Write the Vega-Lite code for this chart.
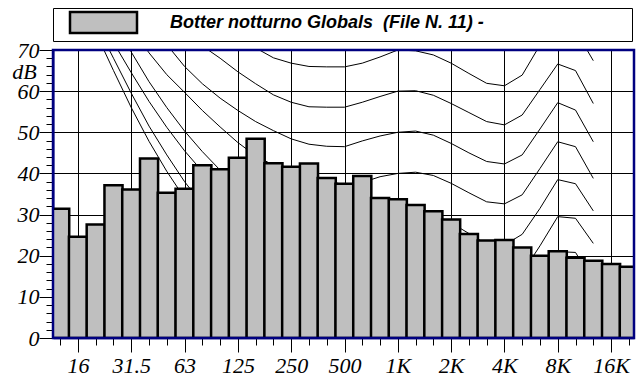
{
  "$schema": "https://vega.github.io/schema/vega-lite/v6.json",
  "autosize": {"type": "none"},
  "padding": {"left": 53, "top": 50, "right": 5, "bottom": 40},
  "width": 581,
  "height": 288,
  "background": "white",
  "config": {
    "view": {"stroke": "#000080", "strokeWidth": 2.5},
    "style": {"cell": {"strokeForeground": true}}
  },
  "datasets": {
    "bars": [
      {"band": 11, "hz": "12.5", "dB": 31.4},
      {"band": 12, "hz": "16", "dB": 24.6},
      {"band": 13, "hz": "20", "dB": 27.6},
      {"band": 14, "hz": "25", "dB": 37.1},
      {"band": 15, "hz": "31.5", "dB": 36.1},
      {"band": 16, "hz": "40", "dB": 43.6},
      {"band": 17, "hz": "50", "dB": 35.3},
      {"band": 18, "hz": "63", "dB": 36.3},
      {"band": 19, "hz": "80", "dB": 42.0},
      {"band": 20, "hz": "100", "dB": 41.0},
      {"band": 21, "hz": "125", "dB": 43.8},
      {"band": 22, "hz": "160", "dB": 48.4},
      {"band": 23, "hz": "200", "dB": 42.5},
      {"band": 24, "hz": "250", "dB": 41.6},
      {"band": 25, "hz": "315", "dB": 42.4},
      {"band": 26, "hz": "400", "dB": 38.9},
      {"band": 27, "hz": "500", "dB": 37.5},
      {"band": 28, "hz": "630", "dB": 39.4},
      {"band": 29, "hz": "800", "dB": 34.0},
      {"band": 30, "hz": "1K", "dB": 33.7},
      {"band": 31, "hz": "1.25K", "dB": 32.3},
      {"band": 32, "hz": "1.6K", "dB": 30.8},
      {"band": 33, "hz": "2K", "dB": 28.8},
      {"band": 34, "hz": "2.5K", "dB": 25.3},
      {"band": 35, "hz": "3.15K", "dB": 23.7},
      {"band": 36, "hz": "4K", "dB": 23.8},
      {"band": 37, "hz": "5K", "dB": 22.0},
      {"band": 38, "hz": "6.3K", "dB": 20.0},
      {"band": 39, "hz": "8K", "dB": 21.1},
      {"band": 40, "hz": "10K", "dB": 19.5},
      {"band": 41, "hz": "12.5K", "dB": 18.8},
      {"band": 42, "hz": "16K", "dB": 18.0},
      {"band": 43, "hz": "20K", "dB": 17.3}
    ],
    "contours": [
      {"phon": 70, "band": 21, "dB": 73.5}, {"phon": 70, "band": 22, "dB": 70.5}, {"phon": 70, "band": 23, "dB": 68.1}, {"phon": 70, "band": 24, "dB": 66.8}, {"phon": 70, "band": 25, "dB": 66.0}, {"phon": 70, "band": 26, "dB": 65.9}, {"phon": 70, "band": 27, "dB": 65.9}, {"phon": 70, "band": 28, "dB": 66.8}, {"phon": 70, "band": 29, "dB": 68.3}, {"phon": 70, "band": 30, "dB": 70.0}, {"phon": 70, "band": 31, "dB": 69.8}, {"phon": 70, "band": 32, "dB": 68.8}, {"phon": 70, "band": 33, "dB": 66.8}, {"phon": 70, "band": 34, "dB": 64.3}, {"phon": 70, "band": 35, "dB": 61.9}, {"phon": 70, "band": 36, "dB": 61.3}, {"phon": 70, "band": 37, "dB": 63.9}, {"phon": 70, "band": 38, "dB": 71.2}, {"phon": 70, "band": 39, "dB": 76.3}, {"phon": 70, "band": 40, "dB": 74.8}, {"phon": 70, "band": 41, "dB": 67.4},
      {"phon": 60, "band": 18, "dB": 74.8}, {"phon": 60, "band": 19, "dB": 71.0}, {"phon": 60, "band": 20, "dB": 68.0}, {"phon": 60, "band": 21, "dB": 64.7}, {"phon": 60, "band": 22, "dB": 61.8}, {"phon": 60, "band": 23, "dB": 59.1}, {"phon": 60, "band": 24, "dB": 57.3}, {"phon": 60, "band": 25, "dB": 56.2}, {"phon": 60, "band": 26, "dB": 56.1}, {"phon": 60, "band": 27, "dB": 56.1}, {"phon": 60, "band": 28, "dB": 57.3}, {"phon": 60, "band": 29, "dB": 58.7}, {"phon": 60, "band": 30, "dB": 60.0}, {"phon": 60, "band": 31, "dB": 60.1}, {"phon": 60, "band": 32, "dB": 59.0}, {"phon": 60, "band": 33, "dB": 57.0}, {"phon": 60, "band": 34, "dB": 54.8}, {"phon": 60, "band": 35, "dB": 52.6}, {"phon": 60, "band": 36, "dB": 51.8}, {"phon": 60, "band": 37, "dB": 54.2}, {"phon": 60, "band": 38, "dB": 60.4}, {"phon": 60, "band": 39, "dB": 66.6}, {"phon": 60, "band": 40, "dB": 65.0}, {"phon": 60, "band": 41, "dB": 57.0},
      {"phon": 50, "band": 16, "dB": 76.5}, {"phon": 50, "band": 17, "dB": 71.3}, {"phon": 50, "band": 18, "dB": 66.0}, {"phon": 50, "band": 19, "dB": 61.8}, {"phon": 50, "band": 20, "dB": 58.3}, {"phon": 50, "band": 21, "dB": 55.3}, {"phon": 50, "band": 22, "dB": 52.6}, {"phon": 50, "band": 23, "dB": 50.4}, {"phon": 50, "band": 24, "dB": 48.4}, {"phon": 50, "band": 25, "dB": 47.1}, {"phon": 50, "band": 26, "dB": 46.6}, {"phon": 50, "band": 27, "dB": 46.5}, {"phon": 50, "band": 28, "dB": 47.9}, {"phon": 50, "band": 29, "dB": 49.1}, {"phon": 50, "band": 30, "dB": 50.0}, {"phon": 50, "band": 31, "dB": 50.3}, {"phon": 50, "band": 32, "dB": 49.3}, {"phon": 50, "band": 33, "dB": 47.3}, {"phon": 50, "band": 34, "dB": 45.0}, {"phon": 50, "band": 35, "dB": 42.9}, {"phon": 50, "band": 36, "dB": 42.3}, {"phon": 50, "band": 37, "dB": 44.5}, {"phon": 50, "band": 38, "dB": 50.8}, {"phon": 50, "band": 39, "dB": 57.2}, {"phon": 50, "band": 40, "dB": 55.4}, {"phon": 50, "band": 41, "dB": 47.7},
      {"phon": 40, "band": 15, "dB": 75.5}, {"phon": 40, "band": 16, "dB": 69.3}, {"phon": 40, "band": 17, "dB": 64.0}, {"phon": 40, "band": 18, "dB": 59.7}, {"phon": 40, "band": 19, "dB": 55.3}, {"phon": 40, "band": 20, "dB": 51.3}, {"phon": 40, "band": 21, "dB": 47.5}, {"phon": 40, "band": 22, "dB": 44.3}, {"phon": 40, "band": 23, "dB": 42.0}, {"phon": 40, "band": 24, "dB": 40.5}, {"phon": 40, "band": 25, "dB": 39.3}, {"phon": 40, "band": 26, "dB": 38.3}, {"phon": 40, "band": 27, "dB": 37.2}, {"phon": 40, "band": 28, "dB": 37.8}, {"phon": 40, "band": 29, "dB": 39.2}, {"phon": 40, "band": 30, "dB": 40.0}, {"phon": 40, "band": 31, "dB": 40.3}, {"phon": 40, "band": 32, "dB": 39.5}, {"phon": 40, "band": 33, "dB": 37.6}, {"phon": 40, "band": 34, "dB": 35.3}, {"phon": 40, "band": 35, "dB": 33.1}, {"phon": 40, "band": 36, "dB": 32.6}, {"phon": 40, "band": 37, "dB": 34.8}, {"phon": 40, "band": 38, "dB": 41.2}, {"phon": 40, "band": 39, "dB": 47.7}, {"phon": 40, "band": 40, "dB": 46.5}, {"phon": 40, "band": 41, "dB": 38.8},
      {"phon": 30, "band": 14, "dB": 77.0}, {"phon": 30, "band": 15, "dB": 69.5}, {"phon": 30, "band": 16, "dB": 62.3}, {"phon": 30, "band": 17, "dB": 56.0}, {"phon": 30, "band": 18, "dB": 50.3}, {"phon": 30, "band": 19, "dB": 45.3}, {"phon": 30, "band": 20, "dB": 40.8}, {"phon": 30, "band": 21, "dB": 37.5}, {"phon": 30, "band": 22, "dB": 35.0}, {"phon": 30, "band": 23, "dB": 33.5}, {"phon": 30, "band": 24, "dB": 32.5}, {"phon": 30, "band": 25, "dB": 31.6}, {"phon": 30, "band": 26, "dB": 31.0}, {"phon": 30, "band": 27, "dB": 30.5}, {"phon": 30, "band": 28, "dB": 30.3}, {"phon": 30, "band": 29, "dB": 30.1}, {"phon": 30, "band": 30, "dB": 30.0}, {"phon": 30, "band": 31, "dB": 30.3}, {"phon": 30, "band": 32, "dB": 29.7}, {"phon": 30, "band": 33, "dB": 28.0}, {"phon": 30, "band": 34, "dB": 25.4}, {"phon": 30, "band": 35, "dB": 22.8}, {"phon": 30, "band": 36, "dB": 22.6}, {"phon": 30, "band": 37, "dB": 25.2}, {"phon": 30, "band": 38, "dB": 31.5}, {"phon": 30, "band": 39, "dB": 38.5}, {"phon": 30, "band": 40, "dB": 37.5}, {"phon": 30, "band": 41, "dB": 30.9},
      {"phon": 20, "band": 13, "dB": 80.0}, {"phon": 20, "band": 14, "dB": 71.8}, {"phon": 20, "band": 15, "dB": 64.5}, {"phon": 20, "band": 16, "dB": 57.5}, {"phon": 20, "band": 17, "dB": 51.2}, {"phon": 20, "band": 18, "dB": 45.5}, {"phon": 20, "band": 19, "dB": 40.5}, {"phon": 20, "band": 20, "dB": 36.0}, {"phon": 20, "band": 21, "dB": 32.0}, {"phon": 20, "band": 22, "dB": 28.5}, {"phon": 20, "band": 23, "dB": 26.0}, {"phon": 20, "band": 24, "dB": 24.0}, {"phon": 20, "band": 25, "dB": 22.5}, {"phon": 20, "band": 26, "dB": 21.5}, {"phon": 20, "band": 27, "dB": 21.0}, {"phon": 20, "band": 28, "dB": 20.5}, {"phon": 20, "band": 29, "dB": 20.2}, {"phon": 20, "band": 30, "dB": 20.0}, {"phon": 20, "band": 31, "dB": 20.3}, {"phon": 20, "band": 32, "dB": 19.8}, {"phon": 20, "band": 33, "dB": 18.3}, {"phon": 20, "band": 34, "dB": 16.0}, {"phon": 20, "band": 35, "dB": 13.5}, {"phon": 20, "band": 36, "dB": 13.2}, {"phon": 20, "band": 37, "dB": 15.8}, {"phon": 20, "band": 38, "dB": 22.4}, {"phon": 20, "band": 39, "dB": 29.5}, {"phon": 20, "band": 40, "dB": 29.1}, {"phon": 20, "band": 41, "dB": 23.0},
      {"phon": 10, "band": 13, "dB": 76.5}, {"phon": 10, "band": 14, "dB": 68.0}, {"phon": 10, "band": 15, "dB": 59.5}, {"phon": 10, "band": 16, "dB": 51.5}, {"phon": 10, "band": 17, "dB": 44.5}, {"phon": 10, "band": 18, "dB": 38.0}, {"phon": 10, "band": 19, "dB": 32.5}, {"phon": 10, "band": 20, "dB": 28.0}, {"phon": 10, "band": 21, "dB": 24.0}, {"phon": 10, "band": 22, "dB": 20.5}, {"phon": 10, "band": 23, "dB": 17.8}, {"phon": 10, "band": 24, "dB": 15.6}, {"phon": 10, "band": 25, "dB": 13.8}, {"phon": 10, "band": 26, "dB": 12.5}, {"phon": 10, "band": 27, "dB": 11.6}, {"phon": 10, "band": 28, "dB": 10.9}, {"phon": 10, "band": 29, "dB": 10.4}, {"phon": 10, "band": 30, "dB": 10.0}, {"phon": 10, "band": 31, "dB": 10.2}, {"phon": 10, "band": 32, "dB": 9.6}, {"phon": 10, "band": 33, "dB": 8.3}, {"phon": 10, "band": 34, "dB": 6.3}, {"phon": 10, "band": 35, "dB": 4.0}, {"phon": 10, "band": 36, "dB": 3.7}, {"phon": 10, "band": 37, "dB": 6.3}, {"phon": 10, "band": 38, "dB": 12.8}, {"phon": 10, "band": 39, "dB": 21.0}, {"phon": 10, "band": 40, "dB": 20.8}, {"phon": 10, "band": 41, "dB": 13.8},
      {"phon": 0, "band": 13, "dB": 74.3}, {"phon": 0, "band": 14, "dB": 65.0}, {"phon": 0, "band": 15, "dB": 56.0}, {"phon": 0, "band": 16, "dB": 47.8}, {"phon": 0, "band": 17, "dB": 40.5}, {"phon": 0, "band": 18, "dB": 34.0}, {"phon": 0, "band": 19, "dB": 28.5}, {"phon": 0, "band": 20, "dB": 24.0}, {"phon": 0, "band": 21, "dB": 19.5}, {"phon": 0, "band": 22, "dB": 16.0}, {"phon": 0, "band": 23, "dB": 13.0}, {"phon": 0, "band": 24, "dB": 10.5}, {"phon": 0, "band": 25, "dB": 8.5}, {"phon": 0, "band": 26, "dB": 6.8}, {"phon": 0, "band": 27, "dB": 5.6}, {"phon": 0, "band": 28, "dB": 4.5}, {"phon": 0, "band": 29, "dB": 3.5}, {"phon": 0, "band": 30, "dB": 2.5}, {"phon": 0, "band": 31, "dB": 2.0}, {"phon": 0, "band": 32, "dB": 2.0}, {"phon": 0, "band": 33, "dB": 1.0}, {"phon": 0, "band": 34, "dB": 0.5}, {"phon": 0, "band": 35, "dB": 0.3}, {"phon": 0, "band": 36, "dB": 0.3}, {"phon": 0, "band": 37, "dB": 1.5}, {"phon": 0, "band": 38, "dB": 4.0}, {"phon": 0, "band": 39, "dB": 11.8}, {"phon": 0, "band": 40, "dB": 11.8}, {"phon": 0, "band": 41, "dB": 5.0}
    ]
  },
  "encoding": {
    "x": {
      "field": "band",
      "type": "quantitative",
      "scale": {"domain": [10.877, 43.01], "nice": false, "zero": false},
      "axis": {
        "title": null,
        "values": [11,12,13,14,15,16,17,18,19,20,21,22,23,24,25,26,27,28,29,30,31,32,33,34,35,36,37,38,39,40,41,42,43],
        "labelExpr": "datum.value % 3 == 0 ? ['16','31.5','63','125','250','500','1K','2K','4K','8K','16K'][(datum.value - 12) / 3] : ''",
        "tickSize": {"condition": {"test": "datum.value % 3 == 0", "value": 14}, "value": 7},
        "tickColor": "black",
        "tickWidth": 1,
        "grid": true,
        "gridColor": "black",
        "gridWidth": 1,
        "gridOpacity": {"condition": {"test": "datum.value % 3 == 0", "value": 1}, "value": 0},
        "domainColor": "#000080",
        "domainWidth": 1.5,
        "labelFont": "Liberation Serif",
        "labelFontStyle": "italic",
        "labelFontSize": 22,
        "labelColor": "black",
        "labelPadding": 3,
        "labelFlush": false,
        "labelOverlap": false,
        "labelBound": false
      }
    },
    "y": {
      "field": "dB",
      "type": "quantitative",
      "scale": {"domain": [0, 70], "nice": false, "zero": true},
      "axis": {
        "title": "dB",
        "titleAngle": 0,
        "titleX": -29,
        "titleY": 21,
        "titleAlign": "center",
        "titleBaseline": "middle",
        "titleFont": "Liberation Serif",
        "titleFontStyle": "italic",
        "titleFontWeight": "normal",
        "titleFontSize": 22,
        "titleColor": "black",
        "values": [0,2,4,6,8,10,12,14,16,18,20,22,24,26,28,30,32,34,36,38,40,42,44,46,48,50,52,54,56,58,60,62,64,66,68,70],
        "labelExpr": "datum.value % 10 == 0 ? datum.label : ''",
        "tickSize": {"condition": {"test": "datum.value % 10 == 0", "value": 14}, "value": 7},
        "tickColor": "black",
        "tickWidth": 1,
        "grid": true,
        "gridColor": "black",
        "gridWidth": 1,
        "gridOpacity": {"condition": {"test": "datum.value % 10 == 0", "value": 1}, "value": 0},
        "domainColor": "#000080",
        "domainWidth": 2,
        "labelFont": "Liberation Serif",
        "labelFontStyle": "italic",
        "labelFontSize": 22,
        "labelColor": "black",
        "labelPadding": 0,
        "labelOverlap": false,
        "labelBound": false,
        "labelFlush": false
      }
    }
  },
  "layer": [
    {
      "data": {"name": "contours"},
      "mark": {"type": "line", "stroke": "black", "strokeWidth": 1, "clip": true},
      "encoding": {"detail": {"field": "phon", "type": "nominal"}}
    },
    {
      "data": {"name": "bars"},
      "mark": {"type": "bar", "width": 18.08, "stroke": "black", "strokeWidth": 2.5, "clip": true, "opacity": 1},
      "encoding": {
        "color": {
          "datum": "Botter notturno Globals \u00a0(File N. 11) -\u00a0\u00a0\u00a0\u00a0\u00a0\u00a0\u00a0\u00a0\u00a0\u00a0\u00a0\u00a0\u00a0\u00a0\u00a0\u00a0\u00a0\u00a0\u00a0\u00a0\u00a0\u00a0\u00a0\u00a0\u00a0\u00a0\u00a0\u00a0\u00a0\u200b",
          "type": "nominal",
          "scale": {"range": ["#bfbfbf"]},
          "legend": {
            "orient": "none",
            "legendX": 0,
            "legendY": -42,
            "title": null,
            "padding": 3,
            "strokeColor": "black",
            "fillColor": "white",
            "symbolType": "M-3.35,-1.05H3.35V1.05H-3.35Z",
            "symbolSize": 400,
            "symbolStrokeColor": "black",
            "symbolStrokeWidth": 2.5,
            "symbolOpacity": 1,
            "symbolOffset": 36,
            "labelOffset": 55,
            "labelFont": "Liberation Sans",
            "labelFontSize": 18,
            "labelFontWeight": "bold",
            "labelFontStyle": "italic",
            "labelColor": "black",
            "labelLimit": 1000
          }
        }
      }
    }
  ]
}
